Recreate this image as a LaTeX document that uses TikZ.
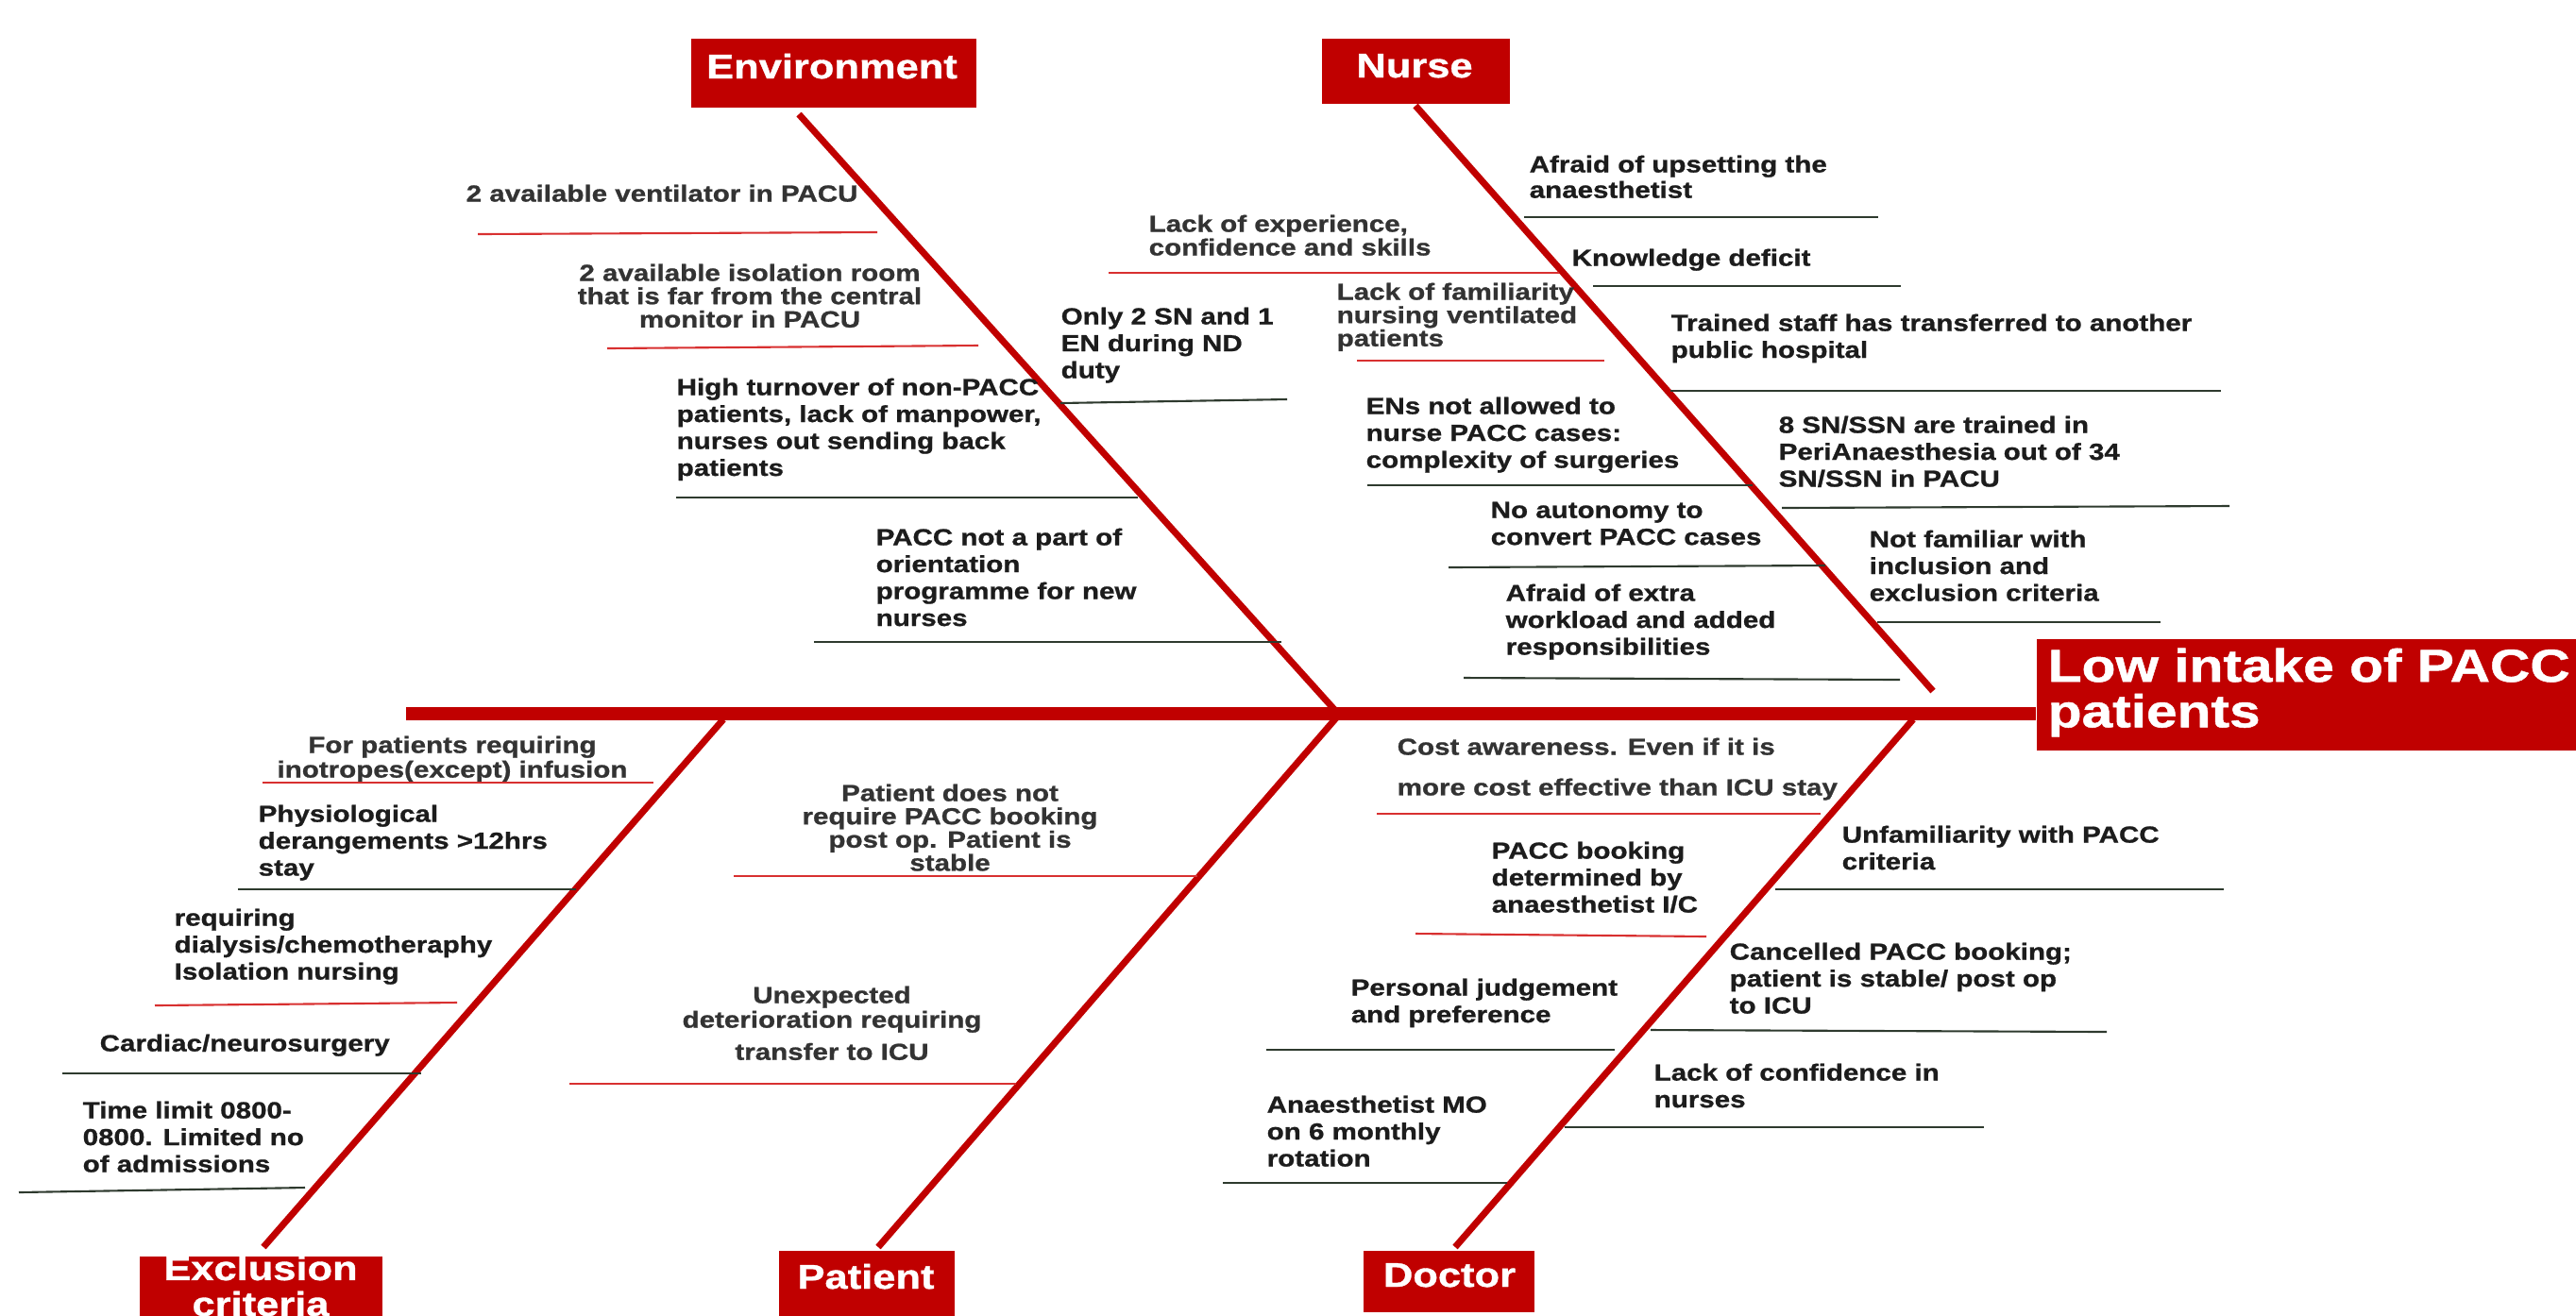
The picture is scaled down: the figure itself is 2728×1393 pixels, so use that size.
\documentclass[tikz,border=0pt]{standalone}
\usepackage{fontspec}
\setmainfont{Liberation Sans}[FakeStretch=1.2]
\newfontfamily\heavyfam{Liberation Sans}[FakeStretch=1.2,FakeBold=1]
\definecolor{boxred}{HTML}{C00000}
\definecolor{linered}{HTML}{D83030}
\definecolor{linedark}{HTML}{2E3A2E}
\definecolor{txtdark}{HTML}{1C1C1C}
\definecolor{txtgray}{HTML}{333333}
\begin{document}
\begin{tikzpicture}[x=0.01cm,y=-0.01cm,
  bone/.style={draw=boxred,line width=2pt},
  spine/.style={draw=boxred,line width=4pt},
  rline/.style={draw=linered,line width=0.6pt},
  dline/.style={draw=linedark,line width=0.6pt},
  catbox/.style={fill=boxred,draw=none,inner sep=0pt},
  cattext/.style={text=white,inner sep=0pt,font=\heavyfam\bfseries\fontsize{10.3pt}{10.8pt}\selectfont},
  cause/.style={text=txtdark,inner sep=0pt,align=left,anchor=north west,font=\heavyfam\bfseries\fontsize{7pt}{8.1pt}\selectfont},
  tight/.style={text=txtgray,font=\heavyfam\bfseries\fontsize{7pt}{7pt}\selectfont},
  ccause/.style={cause,align=center,anchor=north}]
\useasboundingbox (0,0) rectangle (2728,1393);
\clip (0,0) rectangle (2728,1393);

% effect box
\node[catbox,anchor=north west,minimum width=5.8cm,minimum height=1.18cm] (effect) at (2156,676) {};
\node[text=white,inner sep=0pt,anchor=north west,align=left,font=\heavyfam\bfseries\fontsize{13.9pt}{13.7pt}\selectfont] (efftext) at (2168,686) {Low intake of PACC\\patients};

% spine
\coordinate (spL) at (430,756);
\draw[spine] (spL) -- (effect.west |- spL);

% category boxes
\node[catbox,minimum width=3.02cm,minimum height=0.73cm] (envbox) at (883,77.5) {};
\node[cattext,anchor=base] at (881,83) {Environment};
\node[catbox,minimum width=1.99cm,minimum height=0.69cm] (nursebox) at (1499.5,75.5) {};
\node[cattext,anchor=base] at (1498,82) {Nurse};
\node[catbox,anchor=north,minimum width=2.57cm,minimum height=0.8cm] (exbox) at (276.5,1330) {};
\node[cattext,anchor=north,align=center] at (276,1329) {Exclusion\\criteria};
\node[catbox,anchor=north,minimum width=1.85cm,minimum height=0.8cm] (patbox) at (918,1324) {};
\node[cattext,anchor=base] at (917,1365) {Patient};
\node[catbox,anchor=north,minimum width=1.81cm,minimum height=0.65cm] (docbox) at (1534.5,1324) {};
\node[cattext,anchor=base] at (1535,1363) {Doctor};

% bones
\coordinate (J) at (1418,757);
\coordinate (envtop) at (846,121);
\coordinate (nursetop) at (1499,112);
\coordinate (nurseend) at (2047,732);
\coordinate (extop) at (766,762);
\coordinate (exbot) at (279,1321);
\coordinate (patbot) at (930,1321);
\coordinate (doctop) at (2026,762);
\coordinate (docbot) at (1541,1321);
\draw[bone] (envtop) -- (J);
\draw[bone] (J) -- (patbot);
\draw[bone] (nursetop) -- (nurseend);
\draw[bone] (extop) -- (exbot);
\draw[bone] (doctop) -- (docbot);

% Environment causes
\node[cause,text=txtgray] (e1) at (493,195) {2 available ventilator in PACU};
\draw[rline] (506,248) -- (929,246);
\node[ccause,tight] (e2) at (794,279) {2 available isolation room\\that is far from the central\\monitor in PACU};
\draw[rline] (643,369) -- (1036,366);
\node[cause] (e3) at (1123,325) {Only 2 SN and 1\\EN during ND\\duty};
\draw[dline] (1123,427) -- (1363,423);
\node[cause] (e4) at (716,400) {High turnover of non-PACC\\patients, lack of manpower,\\nurses out sending back\\patients};
\draw[dline] (716,527) -- (1205,527);
\node[cause] (e5) at (927,559) {PACC not a part of\\orientation\\programme for new\\nurses};
\draw[dline] (862,680) -- (1357,680);

% Nurse causes
\node[cause,tight,font=\heavyfam\bfseries\fontsize{7pt}{7.1pt}\selectfont] (n0) at (1216,227) {Lack of experience,\\confidence and skills};
\draw[rline] (1174,289) -- (1651,289);
\node[cause,font=\heavyfam\bfseries\fontsize{7pt}{7.7pt}\selectfont] (n1) at (1619,164) {Afraid of upsetting the\\anaesthetist};
\draw[dline] (1614,230) -- (1989,230);
\node[cause] (n2) at (1664,263) {Knowledge deficit};
\draw[dline] (1687,303) -- (2013,303);
\node[cause,tight] (n3) at (1415,299) {Lack of familiarity\\nursing ventilated\\patients};
\draw[rline] (1437,382) -- (1699,382);
\node[cause] (n4) at (1769,332) {Trained staff has transferred to another\\public hospital};
\draw[dline] (1769,414) -- (2352,414);
\node[cause] (n5) at (1446,420) {ENs not allowed to\\nurse PACC cases:\\complexity of surgeries};
\draw[dline] (1448,514) -- (1856,514);
\node[cause] (n6) at (1883,440) {8 SN/SSN are trained in\\PeriAnaesthesia out of 34\\SN/SSN in PACU};
\draw[dline] (1887,538) -- (2361,536);
\node[cause] (n7) at (1578,531) {No autonomy to\\convert PACC cases};
\draw[dline] (1534,601) -- (1933,599);
\node[cause] (n8) at (1979,561) {Not familiar with\\inclusion and\\exclusion criteria};
\draw[dline] (1988,659) -- (2288,659);
\node[cause] (n9) at (1594,618) {Afraid of extra\\workload and added\\responsibilities};
\draw[dline] (1550,718) -- (2012,720);

% Exclusion criteria causes
\node[ccause,text=txtgray,font=\heavyfam\bfseries\fontsize{7pt}{7.4pt}\selectfont] (x1) at (479,779) {For patients requiring\\inotropes(except) infusion};
\draw[rline] (278,829) -- (692,829);
\node[cause] (x2) at (273,852) {Physiological\\derangements >12hrs\\stay};
\draw[dline] (252,942) -- (610,942);
\node[cause] (x3) at (184,962) {requiring\\dialysis/chemotheraphy\\Isolation nursing};
\draw[rline] (164,1065) -- (484,1062);
\node[cause] (x4) at (105,1095) {Cardiac/neurosurgery};
\draw[dline] (66,1137) -- (446,1137);
\node[cause] (x5) at (87,1166) {Time limit 0800-\\0800. Limited no\\of admissions};
\draw[dline] (20,1263) -- (323,1258);

% Patient causes
\node[ccause,tight] (p1) at (1006,830) {Patient does not\\require PACC booking\\post op. Patient is\\stable};
\draw[rline] (777,928) -- (1268,928);
\node[ccause,text=txtgray,font=\heavyfam\bfseries\fontsize{7pt}{7.4pt}\selectfont] (p2) at (881,1044) {Unexpected\\deterioration requiring\\[2.3pt]transfer to ICU};
\draw[rline] (603,1148) -- (1076,1148);

% Doctor causes
\node[cause,text=txtgray,font=\heavyfam\bfseries\fontsize{7pt}{12.2pt}\selectfont] (d1) at (1479,781) {Cost awareness. Even if it is\\more cost effective than ICU stay};
\draw[rline] (1458,862) -- (1928,862);
\node[cause] (d2) at (1950,874) {Unfamiliarity with PACC\\criteria};
\draw[dline] (1880,942) -- (2355,942);
\node[cause] (d3) at (1579,891) {PACC booking\\determined by\\anaesthetist I/C};
\draw[rline] (1499,989) -- (1807,992);
\node[cause] (d4) at (1831,998) {Cancelled PACC booking;\\patient is stable/ post op\\to ICU};
\draw[dline] (1748,1091) -- (2231,1093);
\node[cause] (d5) at (1430,1036) {Personal judgement\\and preference};
\draw[dline] (1341,1112) -- (1710,1112);
\node[cause] (d6) at (1751,1126) {Lack of confidence in\\nurses};
\draw[dline] (1657,1194) -- (2101,1194);
\node[cause] (d7) at (1341,1160) {Anaesthetist MO\\on 6 monthly\\rotation};
\draw[dline] (1295,1253) -- (1596,1253);
\end{tikzpicture}
\end{document}
